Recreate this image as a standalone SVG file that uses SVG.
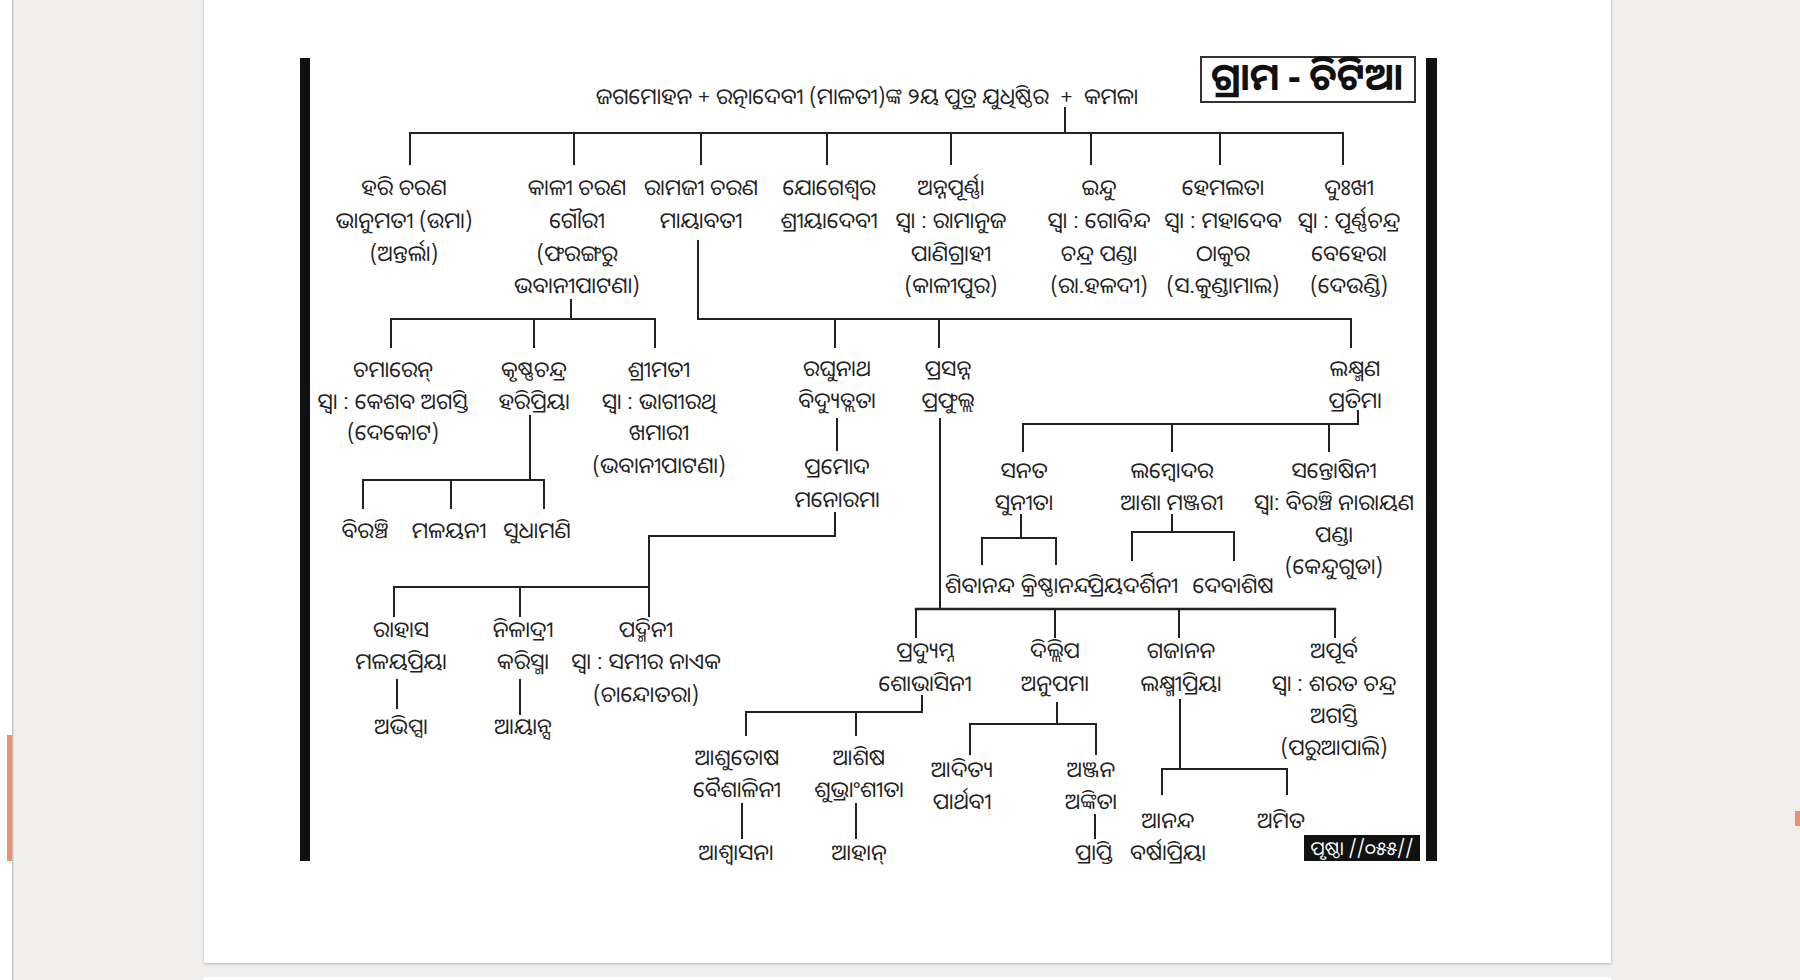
<svg xmlns="http://www.w3.org/2000/svg" width="1800" height="980" viewBox="0 0 1800 980">
<defs>
<filter id="sh" x="-5%" y="-5%" width="110%" height="110%"><feDropShadow dx="0" dy="1" stdDeviation="1.5" flood-color="#000" flood-opacity="0.25"/></filter>
</defs>
<style>
.t{font-family:'Noto Sans Oriya','Noto Sans Odia','Lohit Odia','Noto Sans',sans-serif;font-size:22px;fill:#222;text-anchor:middle}
.c line{stroke:#222;stroke-width:2;stroke-linecap:square}
.bar{fill:#111}
</style>
<rect x="0" y="0" width="1800" height="980" fill="#f0efee"/>
<rect x="0" y="0" width="12" height="980" fill="#ffffff"/>
<rect x="12" y="0" width="1.5" height="980" fill="#c8c8c8"/>
<rect x="7" y="735" width="5" height="126" fill="#f0906a"/>
<rect x="1795" y="811" width="5" height="15" fill="#f0906a"/>
<rect x="204" y="-5" width="1407" height="968" fill="#ffffff" filter="url(#sh)"/>
<rect x="204" y="977" width="1407" height="10" fill="#ffffff"/>

<rect class="bar" x="300" y="58" width="10" height="803"/>
<rect class="bar" x="1426" y="58" width="11" height="803"/>

<g id="title">
<rect x="1201" y="57" width="214" height="45" fill="#fff" stroke="#333" stroke-width="2"/>
<text x="1307" y="90" style="font-family:'Noto Sans Oriya','Noto Sans Odia','Lohit Odia','Noto Sans',sans-serif;font-size:38px;font-weight:bold;fill:#111;text-anchor:middle">ଗ୍ରାମ - ଚିଟିଆ</text>
</g>

<g id="footer">
<rect x="1304" y="835" width="116" height="26" fill="#111"/>
<text x="1362" y="855" style="font-family:'Noto Sans Oriya','Noto Sans Odia','Lohit Odia','Noto Sans',sans-serif;font-size:19px;fill:#fff;text-anchor:middle">ପୃଷ୍ଠା //୦୫୫//</text>
</g>

<g id="connectors" class="c">
<line x1="1065" y1="108" x2="1065" y2="133"/>
<line x1="410" y1="133" x2="1343" y2="133"/>
<line x1="410" y1="133" x2="410" y2="164"/>
<line x1="574" y1="133" x2="574" y2="164"/>
<line x1="701" y1="133" x2="701" y2="164"/>
<line x1="827" y1="133" x2="827" y2="164"/>
<line x1="951" y1="133" x2="951" y2="164"/>
<line x1="1091" y1="133" x2="1091" y2="164"/>
<line x1="1220" y1="133" x2="1220" y2="164"/>
<line x1="1343" y1="133" x2="1343" y2="164"/>

<line x1="571" y1="300" x2="571" y2="319"/>
<line x1="391" y1="319" x2="655" y2="319"/>
<line x1="391" y1="319" x2="391" y2="347"/>
<line x1="534" y1="319" x2="534" y2="347"/>
<line x1="655" y1="319" x2="655" y2="347"/>

<line x1="530" y1="416" x2="530" y2="480"/>
<line x1="363" y1="480" x2="544" y2="480"/>
<line x1="363" y1="480" x2="363" y2="508"/>
<line x1="451" y1="480" x2="451" y2="508"/>
<line x1="544" y1="480" x2="544" y2="508"/>

<line x1="698" y1="241" x2="698" y2="319"/>
<line x1="698" y1="319" x2="1351" y2="319"/>
<line x1="835" y1="319" x2="835" y2="347"/>
<line x1="939" y1="319" x2="939" y2="347"/>
<line x1="1351" y1="319" x2="1351" y2="347"/>

<line x1="837" y1="419" x2="837" y2="450"/>

<line x1="835" y1="513" x2="835" y2="536"/>
<line x1="649" y1="536" x2="835" y2="536"/>
<line x1="649" y1="536" x2="649" y2="616"/>
<line x1="394" y1="587" x2="649" y2="587"/>
<line x1="394" y1="587" x2="394" y2="616"/>
<line x1="520" y1="587" x2="520" y2="616"/>
<line x1="397" y1="680" x2="397" y2="708"/>
<line x1="520" y1="680" x2="520" y2="714"/>

<line x1="1358" y1="411" x2="1358" y2="424"/>
<line x1="1023" y1="424" x2="1358" y2="424"/>
<line x1="1023" y1="424" x2="1023" y2="451"/>
<line x1="1172" y1="424" x2="1172" y2="451"/>
<line x1="1329" y1="424" x2="1329" y2="451"/>

<line x1="1021" y1="515" x2="1021" y2="538"/>
<line x1="982" y1="538" x2="1056" y2="538"/>
<line x1="982" y1="538" x2="982" y2="564"/>
<line x1="1056" y1="538" x2="1056" y2="564"/>

<line x1="1172" y1="515" x2="1172" y2="532"/>
<line x1="1132" y1="532" x2="1234" y2="532"/>
<line x1="1132" y1="532" x2="1132" y2="560"/>
<line x1="1234" y1="532" x2="1234" y2="560"/>

<line x1="940" y1="419" x2="940" y2="609"/>
<line x1="916" y1="609" x2="1335" y2="609" style="stroke-width:2.5"/>
<line x1="916" y1="609" x2="916" y2="637"/>
<line x1="1055" y1="609" x2="1055" y2="637"/>
<line x1="1179" y1="609" x2="1179" y2="637"/>
<line x1="1335" y1="609" x2="1335" y2="637"/>

<line x1="922" y1="696" x2="922" y2="712"/>
<line x1="746" y1="712" x2="922" y2="712"/>
<line x1="746" y1="712" x2="746" y2="735"/>
<line x1="856" y1="712" x2="856" y2="735"/>
<line x1="742" y1="804" x2="742" y2="838"/>
<line x1="856" y1="804" x2="856" y2="838"/>

<line x1="1057" y1="703" x2="1057" y2="724"/>
<line x1="970" y1="724" x2="1096" y2="724"/>
<line x1="970" y1="724" x2="970" y2="754"/>
<line x1="1096" y1="724" x2="1096" y2="754"/>
<line x1="1095" y1="815" x2="1095" y2="838"/>

<line x1="1180" y1="700" x2="1180" y2="769"/>
<line x1="1162" y1="769" x2="1287" y2="769"/>
<line x1="1162" y1="769" x2="1162" y2="794"/>
<line x1="1287" y1="769" x2="1287" y2="794"/>
</g>

<g id="root"><text class="t" x="867" y="104" xml:space="preserve" style="font-size:22px">ଜଗମୋହନ + ରତ୍ନାଦେବୀ (ମାଳତୀ)ଙ୍କ ୨ୟ ପୁତ୍ର ଯୁଧିଷ୍ଠିର  +  କମଳା</text></g>

<g id="hari"><text class="t" x="404" y="195">ହରି ଚରଣ</text><text class="t" x="404" y="228">ଭାନୁମତୀ (ଉମା)</text><text class="t" x="404" y="261">(ଅନ୍ତର୍ଲା)</text></g>
<g id="kali"><text class="t" x="577" y="195">କାଳୀ ଚରଣ</text><text class="t" x="577" y="228">ଗୌରୀ</text><text class="t" x="577" y="261">(ଫରଙ୍ଗରୁ</text><text class="t" x="577" y="293">ଭବାନୀପାଟଣା)</text></g>
<g id="ramji"><text class="t" x="701" y="195">ରାମଜୀ ଚରଣ</text><text class="t" x="701" y="228">ମାୟାବତୀ</text></g>
<g id="yogeswar"><text class="t" x="829" y="195">ଯୋଗେଶ୍ୱର</text><text class="t" x="829" y="228">ଶ୍ରୀୟାଦେବୀ</text></g>
<g id="annapurna"><text class="t" x="951" y="195">ଅନ୍ନପୂର୍ଣ୍ଣା</text><text class="t" x="951" y="228">ସ୍ୱା : ରାମାନୁଜ</text><text class="t" x="951" y="261">ପାଣିଗ୍ରାହୀ</text><text class="t" x="951" y="293">(କାଳୀପୁର)</text></g>
<g id="indu"><text class="t" x="1099" y="195">ଇନ୍ଦୁ</text><text class="t" x="1099" y="228">ସ୍ୱା : ଗୋବିନ୍ଦ</text><text class="t" x="1099" y="261">ଚନ୍ଦ୍ର ପଣ୍ଡା</text><text class="t" x="1099" y="293">(ରା.ହଳଦୀ)</text></g>
<g id="hemalata"><text class="t" x="1223" y="195">ହେମଲତା</text><text class="t" x="1223" y="228">ସ୍ୱା : ମହାଦେବ</text><text class="t" x="1223" y="261">ଠାକୁର</text><text class="t" x="1223" y="293">(ସ.କୁଣ୍ଡାମାଲ)</text></g>
<g id="dukhi"><text class="t" x="1349" y="195">ଦୁଃଖୀ</text><text class="t" x="1349" y="228">ସ୍ୱା : ପୂର୍ଣ୍ଣଚନ୍ଦ୍ର</text><text class="t" x="1349" y="261">ବେହେରା</text><text class="t" x="1349" y="293">(ଦେଉଣ୍ଡି)</text></g>

<g id="chamaren"><text class="t" x="393" y="377">ଚମାରେନ୍</text><text class="t" x="393" y="409">ସ୍ୱା : କେଶବ ଅଗସ୍ତି</text><text class="t" x="393" y="440">(ଦେକୋଟ)</text></g>
<g id="krushna"><text class="t" x="534" y="377">କୃଷ୍ଣଚନ୍ଦ୍ର</text><text class="t" x="534" y="409">ହରିପ୍ରିୟା</text></g>
<g id="srimati"><text class="t" x="659" y="377">ଶ୍ରୀମତୀ</text><text class="t" x="659" y="409">ସ୍ୱା : ଭାଗୀରଥି</text><text class="t" x="659" y="440">ଖମାରୀ</text><text class="t" x="659" y="473">(ଭବାନୀପାଟଣା)</text></g>
<g id="biranchi"><text class="t" x="365" y="538">ବିରଞ୍ଚି</text></g>
<g id="malayani"><text class="t" x="449" y="538">ମଳୟନୀ</text></g>
<g id="sudhamani"><text class="t" x="537" y="538">ସୁଧାମଣି</text></g>

<g id="raghunath"><text class="t" x="837" y="376">ରଘୁନାଥ</text><text class="t" x="837" y="408">ବିଦ୍ୟୁତ୍ଲତା</text></g>
<g id="prasanna"><text class="t" x="948" y="376">ପ୍ରସନ୍ନ</text><text class="t" x="948" y="408">ପ୍ରଫୁଲ୍ଲ</text></g>
<g id="lakshman"><text class="t" x="1355" y="376">ଲକ୍ଷ୍ମଣ</text><text class="t" x="1355" y="408">ପ୍ରତିମା</text></g>
<g id="pramod"><text class="t" x="837" y="474">ପ୍ରମୋଦ</text><text class="t" x="837" y="507">ମନୋରମା</text></g>

<g id="rahas"><text class="t" x="401" y="637">ରାହାସ</text><text class="t" x="401" y="669">ମଳୟପ୍ରିୟା</text></g>
<g id="abhipsa"><text class="t" x="401" y="734">ଅଭିପ୍ସା</text></g>
<g id="niladri"><text class="t" x="523" y="637">ନିଳାଦ୍ରୀ</text><text class="t" x="523" y="669">କରିସ୍ମା</text></g>
<g id="ayansh"><text class="t" x="523" y="734">ଆୟାନ୍ସ</text></g>
<g id="padmini"><text class="t" x="646" y="637">ପଦ୍ମିନୀ</text><text class="t" x="646" y="669">ସ୍ୱା : ସମୀର ନାଏକ</text><text class="t" x="646" y="702">(ଚାନ୍ଦୋତରା)</text></g>

<g id="sanat"><text class="t" x="1024" y="478">ସନତ</text><text class="t" x="1024" y="510">ସୁନୀତା</text></g>
<g id="lambodar"><text class="t" x="1172" y="478">ଲମ୍ବୋଦର</text><text class="t" x="1172" y="510">ଆଶା ମଞ୍ଜରୀ</text></g>
<g id="santoshini"><text class="t" x="1334" y="478">ସନ୍ତୋଷିନୀ</text><text class="t" x="1334" y="510">ସ୍ୱା: ବିରଞ୍ଚି ନାରାୟଣ</text><text class="t" x="1334" y="542">ପଣ୍ଡା</text><text class="t" x="1334" y="574">(କେନ୍ଦୁଗୁଡା)</text></g>
<g id="shibananda"><text class="t" x="980" y="593">ଶିବାନନ୍ଦ</text></g>
<g id="krishnananda"><text class="t" x="1056" y="593">କ୍ରିଷ୍ଣାନନ୍ଦ</text></g>
<g id="priyadarshini"><text class="t" x="1133" y="593">ପ୍ରିୟଦର୍ଶିନୀ</text></g>
<g id="debashish"><text class="t" x="1233" y="593">ଦେବାଶିଷ</text></g>

<g id="pradyumna"><text class="t" x="925" y="658">ପ୍ରଦ୍ୟୁମ୍ନ</text><text class="t" x="925" y="691">ଶୋଭାସିନୀ</text></g>
<g id="dillip"><text class="t" x="1055" y="658">ଦିଲ୍ଲିପ</text><text class="t" x="1055" y="691">ଅନୁପମା</text></g>
<g id="gajanan"><text class="t" x="1181" y="658">ଗଜାନନ</text><text class="t" x="1181" y="691">ଲକ୍ଷ୍ମୀପ୍ରିୟା</text></g>
<g id="apurba"><text class="t" x="1334" y="658">ଅପୂର୍ବ</text><text class="t" x="1334" y="691">ସ୍ୱା : ଶରତ ଚନ୍ଦ୍ର</text><text class="t" x="1334" y="723">ଅଗସ୍ତି</text><text class="t" x="1334" y="755">(ପରୁଆପାଲି)</text></g>

<g id="ashutosh"><text class="t" x="737" y="765">ଆଶୁତୋଷ</text><text class="t" x="737" y="797">ବୈଶାଳିନୀ</text></g>
<g id="ashwasana"><text class="t" x="736" y="860">ଆଶ୍ୱାସନା</text></g>
<g id="ashish"><text class="t" x="859" y="765">ଆଶିଷ</text><text class="t" x="859" y="797">ଶୁଭ୍ରାଂଶୀତା</text></g>
<g id="ahan"><text class="t" x="859" y="860">ଆହାନ୍</text></g>
<g id="aditya"><text class="t" x="962" y="777">ଆଦିତ୍ୟ</text><text class="t" x="962" y="809">ପାର୍ଥବୀ</text></g>
<g id="anjan"><text class="t" x="1091" y="777">ଅଞ୍ଜନ</text><text class="t" x="1091" y="809">ଅଙ୍କିତା</text></g>
<g id="prapti"><text class="t" x="1094" y="860">ପ୍ରାପ୍ତି</text></g>
<g id="ananda"><text class="t" x="1168" y="828">ଆନନ୍ଦ</text><text class="t" x="1168" y="860">ବର୍ଷାପ୍ରିୟା</text></g>
<g id="amit"><text class="t" x="1281" y="828">ଅମିତ</text></g>
</svg>
